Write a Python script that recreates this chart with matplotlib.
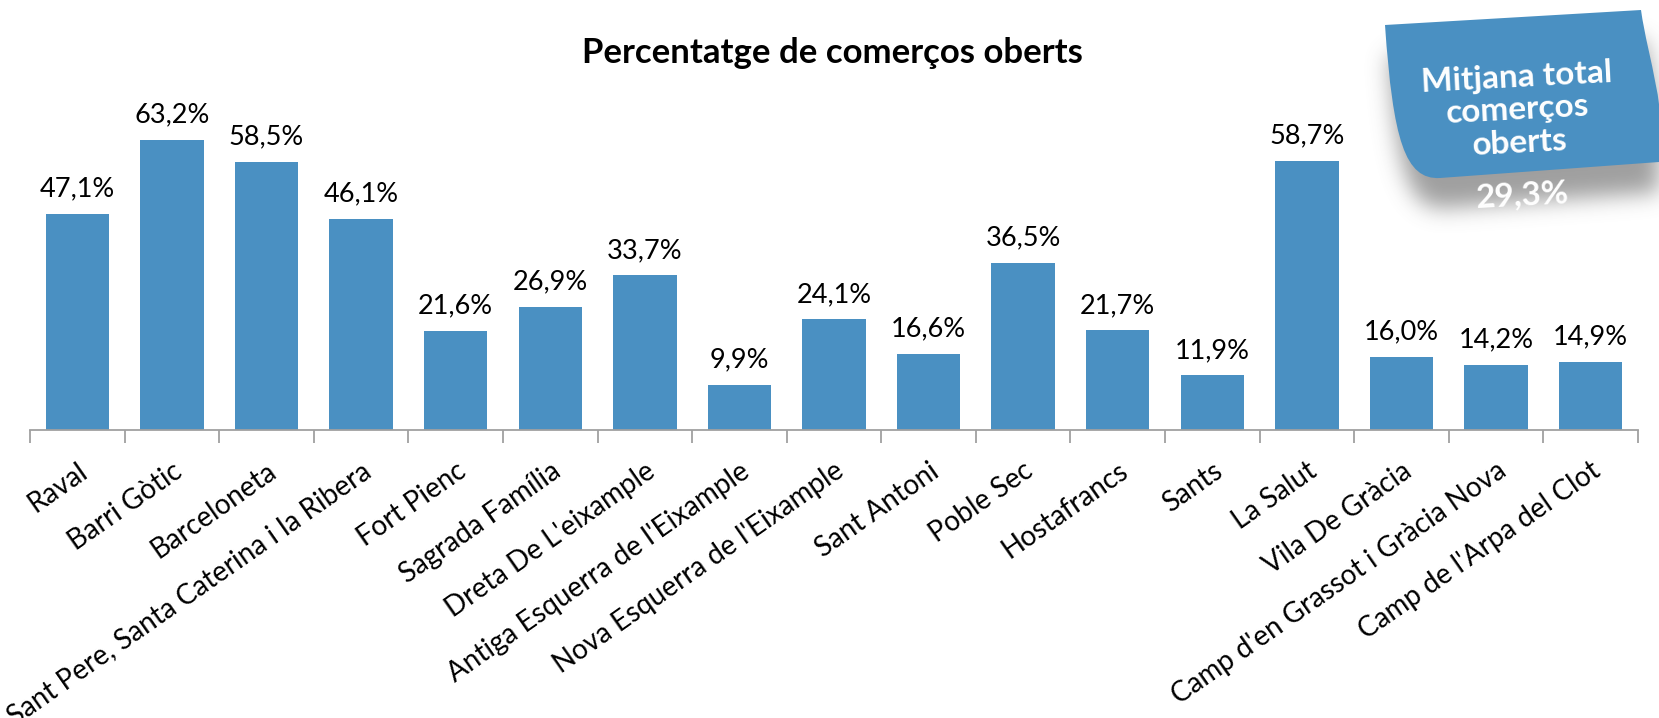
import numpy as np
import matplotlib
matplotlib.use("Agg")
import matplotlib.pyplot as plt
from matplotlib.path import Path
from matplotlib.patches import PathPatch

plt.rcParams['font.family'] = ['Lato', 'DejaVu Sans']

barris = ["Raval", "Barri Gòtic", "Barceloneta", "Sant Pere, Santa Caterina i la Ribera",
          "Fort Pienc", "Sagrada Família", "Dreta De L'eixample", "Antiga Esquerra de l'Eixample",
          "Nova Esquerra de l'Eixample", "Sant Antoni", "Poble Sec", "Hostafrancs", "Sants",
          "La Salut", "Vila De Gràcia", "Camp d'en Grassot i Gràcia Nova", "Camp de l'Arpa del Clot"]
oberts = [47.1, 63.2, 58.5, 46.1, 21.6, 26.9, 33.7, 9.9, 24.1, 16.6, 36.5, 21.7, 11.9,
          58.7, 16.0, 14.2, 14.9]
mitjana = 29.3

BLUE = "#4A90C2"
W, H = 1659, 718

fig = plt.figure(figsize=(W/100, H/100), dpi=100)
ax = fig.add_axes([30/W, 1-430/H, 1608/W, 321/H])
x = np.arange(len(barris))
ax.bar(x, oberts, width=0.67, color=BLUE, zorder=2)
for xi, v in zip(x, oberts):
    ax.annotate(f"{v:.1f}%".replace('.', ','), (xi, v), xytext=(0, 9), textcoords='offset points',
                ha='center', va='bottom', fontsize=19.5)
ax.set_xlim(-0.5, len(barris)-0.5)
ax.set_ylim(0, 70)
for s in ['top', 'left', 'right']:
    ax.spines[s].set_visible(False)
ax.spines['bottom'].set_color('#A0A0A0')
ax.spines['bottom'].set_linewidth(1.3)
ax.set_yticks([])
ax.set_xticks(x)
ax.set_xticklabels(barris, rotation=35, ha='right', va='top', rotation_mode='anchor', fontsize=20)
ax.tick_params(axis='x', which='major', length=0, pad=20)
ax.set_xticks(np.arange(-0.5, len(barris)), minor=True)
ax.tick_params(axis='x', which='minor', length=9, width=1.3, color='#A0A0A0')

fig.text(832/W, 1-53/H, "Percentatge de comerços oberts", ha='center', va='center',
         fontsize=25, fontweight='bold')

# nota adhesiva amb la mitjana
ov = fig.add_axes([0, 0, 1, 1], zorder=5)
ov.set_xlim(0, W); ov.set_ylim(H, 0); ov.axis('off'); ov.patch.set_alpha(0)

def nota(dx=0, dy=0):
    pts = [(1385, 25), (1641, 10), (1648, 60), (1668, 110), (1659, 162), (1440, 178),
           (1405, 180), (1393, 140), (1385, 25)]
    codes = [Path.MOVETO, Path.LINETO, Path.CURVE4, Path.CURVE4, Path.CURVE4, Path.LINETO,
             Path.CURVE4, Path.CURVE4, Path.CURVE4]
    return Path([(px+dx, py+dy) for px, py in pts], codes)

x0, x1, y0, y1 = 1340, W, 0, 280
gx, gy = np.meshgrid(np.arange(x0, x1)+0.5, np.arange(y0, y1)+0.5)
mask = nota(4, 30).contains_points(np.c_[gx.ravel(), gy.ravel()]).reshape(gx.shape).astype(float)
k = np.exp(-0.5*(np.arange(-30, 31)/11.0)**2); k /= k.sum()
sh = np.apply_along_axis(lambda r: np.convolve(r, k, mode='same'), 0, mask)
sh = np.apply_along_axis(lambda r: np.convolve(r, k, mode='same'), 1, sh)
img = np.zeros(sh.shape+(4,))
img[..., :3] = 0.42
img[..., 3] = sh*0.65
ov.imshow(img, extent=(x0, x1, y1, y0), zorder=1, interpolation='bilinear')
ov.set_xlim(0, W); ov.set_ylim(H, 0)

ov.text(1522, 195, f"{mitjana:.1f}%".replace('.', ','), ha='center', va='center', rotation=3,
        color='white', fontsize=24, fontweight='bold', zorder=2)
ov.add_patch(PathPatch(nota(), facecolor=BLUE, edgecolor='none', zorder=3))
ov.text(1518, 110, "Mitjana total\ncomerços\noberts", ha='center', va='center', rotation=3,
        color='white', fontsize=24, fontweight='bold', linespacing=1.15, zorder=4)

fig.savefig("out.png", dpi=100)
